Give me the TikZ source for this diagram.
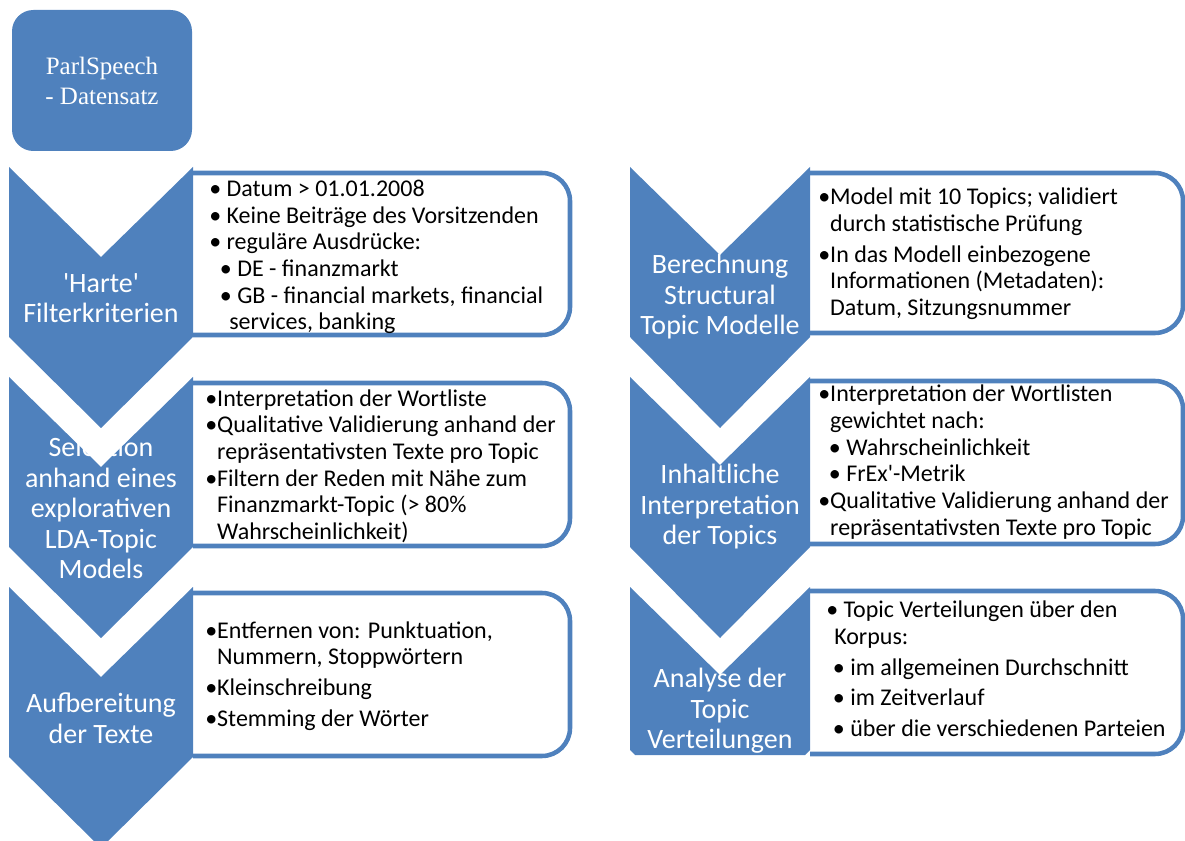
\documentclass[tikz,border=0pt]{standalone}
\usepackage{fontspec}
\setmainfont{Carlito}
\newfontfamily\serifbox{Liberation Serif}
\usetikzlibrary{positioning}
\definecolor{chevblue}{RGB}{79,129,189}
\newcommand{\ind}{\phantom{•}}

\begin{document}
\begin{tikzpicture}[x=0.75pt, y=-0.75pt,
  chevron/.style={fill=chevblue, draw=none},
  listbox/.style={draw=chevblue, line width=3.4pt, rounded corners=21pt},
  steptext/.style={text=white, align=center, inner sep=0pt, font=\fontsize{21}{22.9}\selectfont},
  itemtext/.style={anchor=west, align=left, inner sep=0pt, font=\fontsize{18}{20}\selectfont}
]
  \useasboundingbox (0,0) rectangle (1185,841);
  \clip (0,0) rectangle (1185,841);

  % data set
  \node[fill=chevblue, rounded corners=16pt, minimum width=135pt, minimum height=105.75pt,
        text=white, align=center, font=\serifbox\fontsize{18.75}{22.5}\selectfont] (data) at (102,80.5)
        {ParlSpeech\\- Datensatz};

  % list boxes, left column
  \draw[listbox] (193,173) -- (570,173) -- (570,335) -- (193,335);
  \draw[listbox] (193,383) -- (570,383) -- (570,546) -- (193,546);
  \draw[listbox] (193,593) -- (570,593) -- (570,756) -- (193,756);

  % list boxes, right column
  \draw[listbox] (810,173) -- (1183,173) -- (1183,333) -- (810,333);
  \draw[listbox] (810,381) -- (1183,381) -- (1183,544) -- (810,544);
  \draw[listbox] (810,591) -- (1183,591) -- (1183,754) -- (810,754);

  % chevrons, left column
  \fill[chevron] (9,167) -- ++(92,90) -- ++(92,-90) -- ++(0,170) -- ++(-92,91) -- ++(-92,-91) -- cycle;
  \fill[chevron] (9,377) -- ++(92,90) -- ++(92,-90) -- ++(0,170) -- ++(-92,91) -- ++(-92,-91) -- cycle;
  \fill[chevron] (9,587) -- ++(92,90) -- ++(92,-90) -- ++(0,170) -- ++(-92,91) -- ++(-92,-91) -- cycle;

  % chevrons, right column
  \fill[chevron] (630,167) -- ++(90,88) -- ++(90,-88) -- ++(0,170) -- ++(-90,91) -- ++(-90,-91) -- cycle;
  \fill[chevron] (630,377) -- ++(90,88) -- ++(90,-88) -- ++(0,170) -- ++(-90,91) -- ++(-90,-91) -- cycle;
  \fill[chevron] (630,587) -- ++(90,88) -- ++(90,-88) -- ++(0,163) -- ++(-5,5) -- ++(-170,0) -- ++(-5,-5) -- cycle;

  % step labels
  \node[steptext] (hart) at (101,298) {\textquotesingle Harte\textquotesingle\\Filterkriterien};
  \node[steptext] (sel)  at (101,508) {Selektion\\anhand eines\\explorativen\\LDA-Topic\\Models};
  \node[steptext] (auf)  at (101,718) {Aufbereitung\\der Texte};
  \node[steptext] (stm)  at (720,297) {Berechnung\\Structural\\Topic Modelle};
  \node[steptext] (inh)  at (720,507) {Inhaltliche\\Interpretation\\der Topics};
  \node[steptext] (ana)  at (720,711) {Analyse der\\Topic\\Verteilungen};

  % list texts
  \node[itemtext] (hartlist) at (209,257) {%
    • Datum > 01.01.2008\\
    • Keine Beiträge des Vorsitzenden\\
    • reguläre Ausdrücke:\\
    \hspace*{8pt}• DE - finanzmarkt\\
    \hspace*{8pt}• GB - financial markets, financial\\
    \hspace*{15pt}services, banking};
  \node[itemtext] (sellist) at (205,466) {%
    •Interpretation der Wortliste\\
    •Qualitative Validierung anhand der\\
    \ind repräsentativsten Texte pro Topic\\
    •Filtern der Reden mit Nähe zum\\
    \ind Finanzmarkt-Topic (> 80\%\\
    \ind Wahrscheinlichkeit)};
  \node[itemtext] (auflist) at (205,676) {%
    •Entfernen von: Punktuation,\\
    \ind Nummern, Stoppwörtern\\[3pt]
    •Kleinschreibung\\[3pt]
    •Stemming der Wörter};
  \node[itemtext] (stmlist) at (818,254) {%
    •Model mit 10 Topics; validiert\\
    \ind durch statistische Prüfung\\[3pt]
    •In das Modell einbezogene\\
    \ind Informationen (Metadaten):\\
    \ind Datum, Sitzungsnummer};
  \node[itemtext] (inhlist) at (818,462) {%
    •Interpretation der Wortlisten\\
    \ind gewichtet nach:\\
    \hspace*{8pt}• Wahrscheinlichkeit\\
    \hspace*{8pt}• FrEx\textquotesingle-Metrik\\
    •Qualitative Validierung anhand der\\
    \ind repräsentativsten Texte pro Topic};
  \node[itemtext] (analist) at (826,669) {%
    • Topic Verteilungen über den\\
    \hspace*{6pt}Korpus:\\[3pt]
    \hspace*{5pt}• im allgemeinen Durchschnitt\\[3pt]
    \hspace*{5pt}• im Zeitverlauf\\[3pt]
    \hspace*{5pt}• über die verschiedenen Parteien};
\end{tikzpicture}
\end{document}
